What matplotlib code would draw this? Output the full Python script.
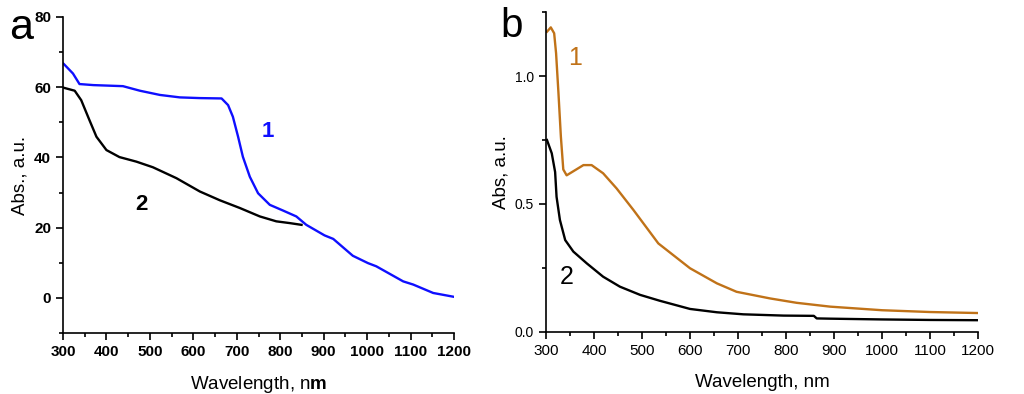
import matplotlib
matplotlib.use("Agg")
import matplotlib.pyplot as plt
from matplotlib.ticker import MultipleLocator

plt.rcParams['font.family'] = ['Liberation Sans', 'DejaVu Sans']
plt.rcParams['mathtext.fontset'] = 'custom'
plt.rcParams['mathtext.rm'] = 'Liberation Sans'
plt.rcParams['mathtext.bf'] = 'Liberation Sans:bold'

# Panel a data
a1_wl = [300, 302, 323, 338, 370, 438, 477, 523, 569, 615, 665, 680, 691, 703, 714, 730,
         749, 776, 806, 837, 860, 902, 922, 967, 1002, 1021, 1083, 1106, 1152, 1200]
a1_abs = [66.8, 66.6, 63.9, 60.9, 60.6, 60.3, 59.0, 57.8, 57.1, 56.9, 56.8, 54.9, 51.6, 45.9,
          40.2, 34.5, 29.8, 26.5, 24.9, 23.2, 20.8, 17.8, 16.8, 12.0, 9.9, 9.0, 4.7, 3.8, 1.4, 0.3]
a2_wl = [300, 327, 342, 361, 377, 400, 430, 469, 507, 561, 615, 661, 707, 753, 791, 822, 849]
a2_abs = [59.9, 59.0, 56.3, 50.6, 45.9, 42.1, 40.1, 38.8, 37.2, 34.1, 30.3, 27.8, 25.6, 23.2,
          21.8, 21.3, 20.8]

# Panel b data
b1_wl = [302, 310, 317, 321, 326, 331, 336, 343, 357, 378, 395, 419, 447, 482, 534, 600,
         656, 697, 767, 822, 892, 1000, 1100, 1200]
b1_abs = [1.173, 1.19, 1.167, 1.089, 0.932, 0.763, 0.635, 0.612, 0.628, 0.652, 0.652, 0.62,
          0.561, 0.477, 0.346, 0.249, 0.19, 0.157, 0.131, 0.114, 0.099, 0.085, 0.078, 0.074]
b2_wl = [302, 312, 319, 322, 329, 340, 357, 385, 419, 454, 496, 537, 600, 656, 711, 795,
         858, 864, 892, 1000, 1100, 1200]
b2_abs = [0.75, 0.698, 0.625, 0.528, 0.4375, 0.359, 0.314, 0.268, 0.216, 0.177, 0.145, 0.122,
          0.09, 0.077, 0.069, 0.064, 0.063, 0.053, 0.052, 0.049, 0.047, 0.046]

xticks = [300, 400, 500, 600, 700, 800, 900, 1000, 1100, 1200]

fig = plt.figure(figsize=(10.24, 3.94), dpi=100)

def style(ax, bold):
    for s in ['top', 'right']:
        ax.spines[s].set_visible(False)
    for s in ['left', 'bottom']:
        ax.spines[s].set_linewidth(1.2)
    ax.tick_params(which='major', direction='out', length=5, width=1.2)
    ax.tick_params(which='minor', direction='out', length=3, width=1.2)
    for lab in ax.get_xticklabels() + ax.get_yticklabels():
        if bold:
            lab.set_fontweight('bold')

# Panel a
axa = fig.add_axes([0.0615, 0.1548, 0.3819, 0.8021])
axa.plot(a1_wl, a1_abs, color='#0f0fff', lw=1.7, solid_joinstyle='round')
axa.plot(a2_wl, a2_abs, color='black', lw=1.7, solid_joinstyle='round')
axa.set_xlim(300, 1200)
axa.set_ylim(-10, 80)
axa.set_xticks(xticks)
axa.set_yticks([0, 20, 40, 60, 80])
axa.xaxis.set_minor_locator(MultipleLocator(50))
axa.yaxis.set_minor_locator(MultipleLocator(10))
axa.tick_params(labelsize=11)
style(axa, True)
axa.set_xlabel(r'Wavelength, n$\mathbf{m}$', fontsize=13.5, labelpad=11)
axa.set_ylabel('Abs., a.u.', fontsize=13.5, labelpad=4)
axa.text(772, 47.3, '1', color='#0f0fff', fontsize=16, fontweight='bold', ha='center', va='center')
axa.text(480, 26.5, '2', color='black', fontsize=16, fontweight='bold', ha='center', va='center')
fig.text(0.021, 0.93, 'a', fontsize=31, ha='center', va='center')

# Panel b
axb = fig.add_axes([0.5332, 0.1574, 0.4219, 0.8121])
axb.plot(b1_wl, b1_abs, color='#c07218', lw=1.7, solid_joinstyle='round')
axb.plot(b2_wl, b2_abs, color='black', lw=1.7, solid_joinstyle='round')
axb.set_xlim(300, 1200)
axb.set_ylim(0, 1.25)
axb.set_xticks(xticks)
axb.set_yticks([0.0, 0.5, 1.0])
axb.set_yticklabels(['0.0', '0.5', '1.0'])
axb.xaxis.set_minor_locator(MultipleLocator(50))
axb.yaxis.set_minor_locator(MultipleLocator(0.25))
axb.tick_params(axis='x', labelsize=11)
axb.tick_params(axis='y', labelsize=10)
style(axb, False)
axb.set_xlabel('Wavelength, nm', fontsize=13.5, labelpad=12)
axb.set_ylabel('Abs, a.u.', fontsize=13.5, labelpad=4)
axb.text(360, 1.07, '1', color='#c07218', fontsize=18, ha='center', va='center')
axb.text(343, 0.216, '2', color='black', fontsize=18, ha='center', va='center')
fig.text(0.5, 0.935, 'b', fontsize=29, ha='center', va='center')

fig.savefig('out.png', dpi=100)
